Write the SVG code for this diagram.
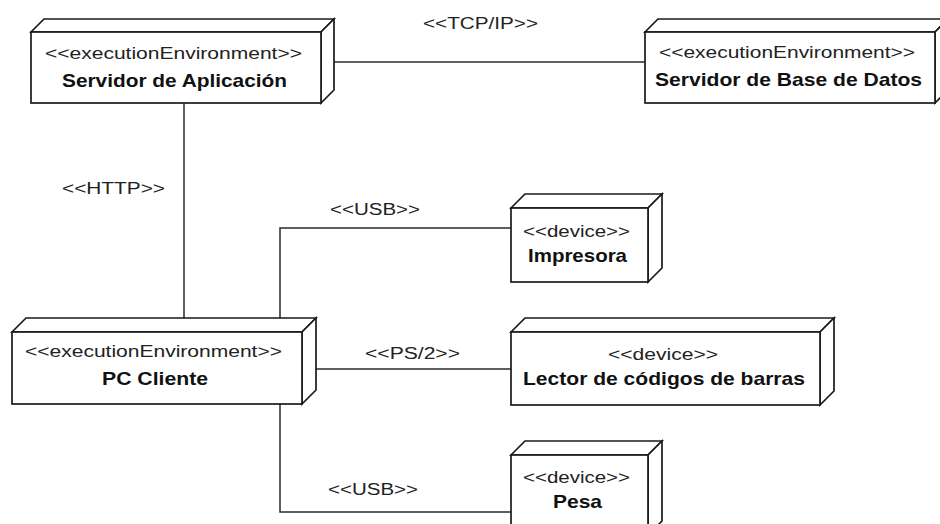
<svg xmlns="http://www.w3.org/2000/svg" width="940" height="524" viewBox="0 0 940 524">
  <style>
    .box { fill: #ffffff; stroke: #1a1a1a; stroke-width: 1.7; stroke-linejoin: miter; }
    .link { fill: none; stroke: #2a2a2a; stroke-width: 1.5; }
    .st { font-family: "Liberation Sans", Arial, sans-serif; font-size: 16px; fill: #222; }
    .nm { font-family: "Liberation Sans", Arial, sans-serif; font-size: 19px; font-weight: bold; fill: #111; }
    .lb { font-family: "Liberation Sans", Arial, sans-serif; font-size: 16px; fill: #222; }
  </style>
  <rect width="940" height="524" fill="#ffffff"/>

  <!-- connectors -->
  <g id="connectors">
    <path class="link" d="M334 62 H645"/>
    <path class="link" d="M184 103 V318"/>
    <path class="link" d="M280 318 V228 H511"/>
    <path class="link" d="M315 369 H511"/>
    <path class="link" d="M280 404 V512 H511"/>
    <text class="lb" x="423" y="29" textLength="115" lengthAdjust="spacingAndGlyphs">&lt;&lt;TCP/IP&gt;&gt;</text>
    <text class="lb" x="62" y="194" textLength="103" lengthAdjust="spacingAndGlyphs">&lt;&lt;HTTP&gt;&gt;</text>
    <text class="lb" x="330" y="215" textLength="90" lengthAdjust="spacingAndGlyphs">&lt;&lt;USB&gt;&gt;</text>
    <text class="lb" x="365" y="359" textLength="95" lengthAdjust="spacingAndGlyphs">&lt;&lt;PS/2&gt;&gt;</text>
    <text class="lb" x="328" y="495" textLength="90" lengthAdjust="spacingAndGlyphs">&lt;&lt;USB&gt;&gt;</text>
  </g>

  <!-- Servidor de Aplicación -->
  <g id="servidor-aplicacion">
    <polygon class="box" points="31,32 44,19 334,19 321,32"/>
    <polygon class="box" points="321,32 334,19 334,90 321,103"/>
    <rect class="box" x="31" y="32" width="290" height="71"/>
    <text class="st" x="45" y="59" textLength="257" lengthAdjust="spacingAndGlyphs">&lt;&lt;executionEnvironment&gt;&gt;</text>
    <text class="nm" x="62" y="87" textLength="225" lengthAdjust="spacingAndGlyphs">Servidor de Aplicación</text>
  </g>

  <!-- Servidor de Base de Datos -->
  <g id="servidor-bd">
    <polygon class="box" points="645,32 658,19 948,19 935,32"/>
    <polygon class="box" points="935,32 948,19 948,90 935,103"/>
    <rect class="box" x="645" y="32" width="290" height="71"/>
    <text class="st" x="659" y="58" textLength="256" lengthAdjust="spacingAndGlyphs">&lt;&lt;executionEnvironment&gt;&gt;</text>
    <text class="nm" x="655" y="86" textLength="267" lengthAdjust="spacingAndGlyphs">Servidor de Base de Datos</text>
  </g>

  <!-- PC Cliente -->
  <g id="pc-cliente">
    <polygon class="box" points="12,332 26,318 316,318 302,332"/>
    <polygon class="box" points="302,332 316,318 316,390 302,404"/>
    <rect class="box" x="12" y="332" width="290" height="72"/>
    <text class="st" x="25" y="357" textLength="257" lengthAdjust="spacingAndGlyphs">&lt;&lt;executionEnvironment&gt;&gt;</text>
    <text class="nm" x="102" y="385" textLength="106" lengthAdjust="spacingAndGlyphs">PC Cliente</text>
  </g>

  <!-- Impresora -->
  <g id="impresora">
    <polygon class="box" points="511,208 525,194 662,194 648,208"/>
    <polygon class="box" points="648,208 662,194 662,268 648,282"/>
    <rect class="box" x="511" y="208" width="137" height="74"/>
    <text class="st" x="523" y="237" textLength="107" lengthAdjust="spacingAndGlyphs">&lt;&lt;device&gt;&gt;</text>
    <text class="nm" x="528" y="262" textLength="99" lengthAdjust="spacingAndGlyphs">Impresora</text>
  </g>

  <!-- Lector de códigos de barras -->
  <g id="lector">
    <polygon class="box" points="511,332 525,318 834,318 820,332"/>
    <polygon class="box" points="820,332 834,318 834,391 820,405"/>
    <rect class="box" x="511" y="332" width="309" height="73"/>
    <text class="st" x="608" y="360" textLength="110" lengthAdjust="spacingAndGlyphs">&lt;&lt;device&gt;&gt;</text>
    <text class="nm" x="523" y="385" textLength="282" lengthAdjust="spacingAndGlyphs">Lector de códigos de barras</text>
  </g>

  <!-- Pesa -->
  <g id="pesa">
    <polygon class="box" points="511,455 525,441 662,441 648,455"/>
    <polygon class="box" points="648,455 662,441 662,521 648,535"/>
    <rect class="box" x="511" y="455" width="137" height="80"/>
    <text class="st" x="523" y="483" textLength="107" lengthAdjust="spacingAndGlyphs">&lt;&lt;device&gt;&gt;</text>
    <text class="nm" x="553" y="508" textLength="49" lengthAdjust="spacingAndGlyphs">Pesa</text>
  </g>
</svg>
